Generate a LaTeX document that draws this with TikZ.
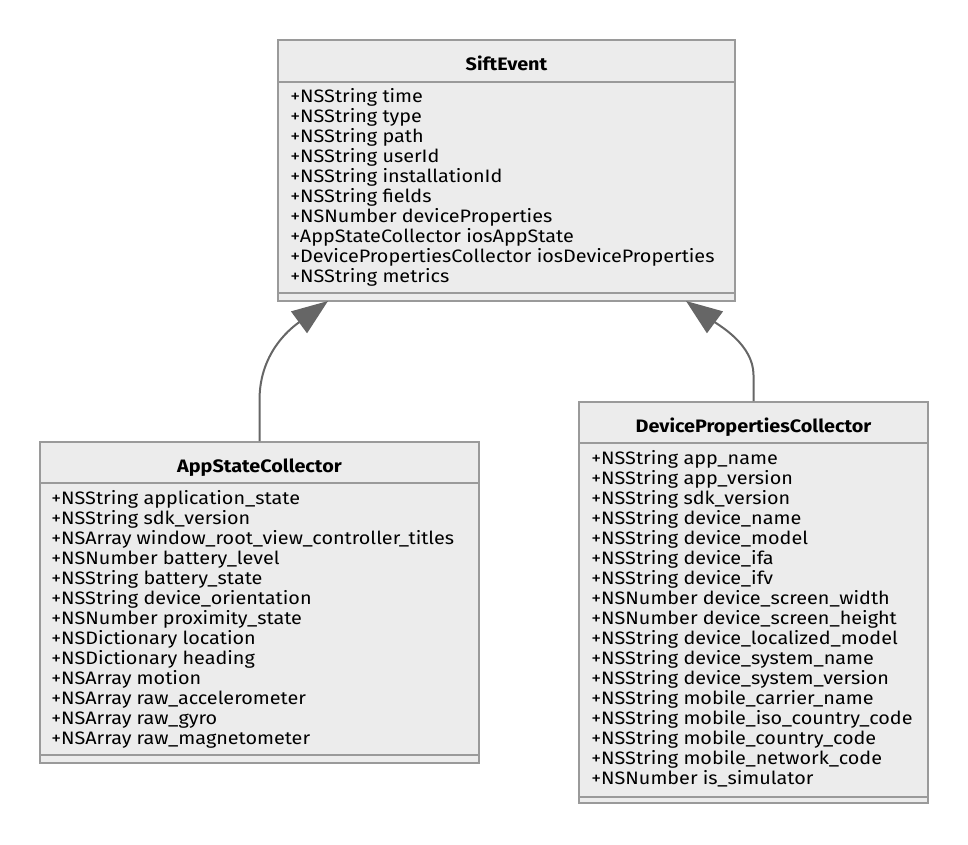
\documentclass[tikz,border=0pt]{standalone}
\usepackage{fontspec}
\setmainfont{Fira Sans}[FakeStretch=1.1]
\usetikzlibrary{arrows.meta}
\definecolor{boxfill}{HTML}{ECECEC}
\definecolor{boxline}{HTML}{9A9A9A}
\definecolor{extline}{HTML}{666666}

\begin{document}
\begin{tikzpicture}[x=0.75pt, y=-0.75pt, font=\fontsize{13.5}{15}\selectfont,
  classbox/.style={draw=boxline, fill=boxfill, line width=1.5pt, inner sep=0pt},
  classsep/.style={draw=boxline, line width=1.5pt},
  title/.style={anchor=base, inner sep=0pt, font=\fontsize{13.5}{15}\selectfont\bfseries},
  attr/.style={anchor=base west, inner sep=0pt},
  ext/.style={draw=extline, line width=1.5pt, -{Triangle[length=27pt, width=20pt, fill=extline]}}]

\useasboundingbox (0,0) rectangle (968,844);

\node (sift) at (506.5,170.5) [classbox, minimum width=457*0.75pt, minimum height=261*0.75pt] {};
\draw[classsep] (sift.west |- 0,82) -- (sift.east |- 0,82);
\draw[classsep] (sift.west |- 0,293) -- (sift.east |- 0,293);
\node (sift-title) at (506.5,70) [title] {SiftEvent};
\foreach \t [count=\i] in {{+NSString time}, {+NSString type}, {+NSString path},
    {+NSString userId}, {+NSString installationId}, {+NSString fields},
    {+NSNumber deviceProperties}, {+AppStateCollector iosAppState},
    {+DevicePropertiesCollector iosDeviceProperties}, {+NSString metrics}}
  \node (sift-\i) at (290,82+20*\i) [attr] {\t};

\node (app) at (259.5,602.5) [classbox, minimum width=439*0.75pt, minimum height=321*0.75pt] {};
\draw[classsep] (app.west |- 0,483) -- (app.east |- 0,483);
\draw[classsep] (app.west |- 0,755) -- (app.east |- 0,755);
\node (app-title) at (259.5,472) [title] {AppStateCollector};
\foreach \t [count=\i] in {{+NSString application\_state}, {+NSString sdk\_version},
    {+NSArray window\_root\_view\_controller\_titles}, {+NSNumber battery\_level},
    {+NSString battery\_state}, {+NSString device\_orientation},
    {+NSNumber proximity\_state}, {+NSDictionary location},
    {+NSDictionary heading}, {+NSArray motion}, {+NSArray raw\_accelerometer},
    {+NSArray raw\_gyro}, {+NSArray raw\_magnetometer}}
  \node (app-\i) at (51,484+20*\i) [attr] {\t};

\node (dev) at (753.5,602.5) [classbox, minimum width=349*0.75pt, minimum height=401*0.75pt] {};
\draw[classsep] (dev.west |- 0,443) -- (dev.east |- 0,443);
\draw[classsep] (dev.west |- 0,797) -- (dev.east |- 0,797);
\node (dev-title) at (753.5,432) [title] {DevicePropertiesCollector};
\foreach \t [count=\i] in {{+NSString app\_name}, {+NSString app\_version},
    {+NSString sdk\_version}, {+NSString device\_name}, {+NSString device\_model},
    {+NSString device\_ifa}, {+NSString device\_ifv},
    {+NSNumber device\_screen\_width}, {+NSNumber device\_screen\_height},
    {+NSString device\_localized\_model}, {+NSString device\_system\_name},
    {+NSString device\_system\_version}, {+NSString mobile\_carrier\_name},
    {+NSString mobile\_iso\_country\_code}, {+NSString mobile\_country\_code},
    {+NSString mobile\_network\_code}, {+NSNumber is\_simulator}}
  \node (dev-\i) at (591,444+20*\i) [attr] {\t};

\coordinate (sift-l) at (328,301);
\coordinate (sift-r) at (686,301);

\draw[ext] (app.north) -- (259.5,400) .. controls (259.5,350) and (294,326) .. (sift-l);
\draw[ext] (dev.north) -- (753.5,375) .. controls (753.5,345) and (720,326) .. (sift-r);

\end{tikzpicture}
\end{document}
